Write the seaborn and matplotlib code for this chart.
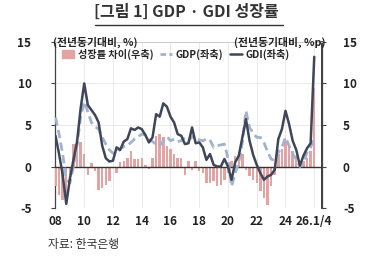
import numpy as np
import pandas as pd
import matplotlib
matplotlib.use("Agg")
import matplotlib.pyplot as plt
from matplotlib.lines import Line2D
import seaborn as sns

# quarterly data, 2008Q1 ~ 2026Q1 (yoy, %)
gdi = [3.7, 1.5, -1.0, -4.5,
       -1.5, 0.8, 3.0, 7.0,
       10.0, 7.4, 6.8, 6.2,
       5.3, 2.5, 1.0, 0.6,
       0.7, 2.3, 2.0, 3.0,
       3.3, 4.6, 4.4, 4.7,
       4.5, 3.8, 2.9, 3.5,
       6.3, 6.0, 7.6, 7.2,
       6.0, 5.3, 3.9, 3.7,
       2.7, 2.8, 4.7, 2.8,
       2.9, 2.3, 0.8, 1.5,
       0.2, 0.0, 0.0, 0.9,
       0.0, -1.6, 0.5, 1.3,
       3.5, 5.7, 3.1, 1.4,
       0.2, -0.8, -1.6, -1.2,
       -1.0, -0.4, 3.3, 4.5,
       6.7, 5.1, 3.1, 2.0,
       0.1, 1.3, 2.2, 2.8,
       13.2]
gdp = [5.9, 3.9, 1.5, -1.5,
       -2.0, 0.0, 2.5, 6.0,
       7.8, 6.6, 5.3, 4.8,
       4.5, 3.5, 2.7, 2.0,
       1.6, 1.6, 2.1, 2.4,
       2.5, 2.9, 3.3, 3.6,
       3.9, 3.8, 3.3, 3.0,
       2.7, 2.5, 3.1, 3.6,
       3.1, 3.3, 3.0, 3.1,
       3.5, 3.1, 3.6, 3.3,
       3.2, 3.1, 3.3, 3.2,
       2.3, 2.5, 2.6, 2.7,
       1.0, -2.4, -0.8, 0.5,
       2.9, 6.7, 4.7, 4.0,
       3.5, 3.5, 2.9, 1.8,
       0.9, 0.7, 1.7, 2.3,
       3.5, 2.5, 1.5, 0.9,
       0.0, 0.3, 1.7, 2.3,
       3.5]
gap = [-2.4, -3.4, -4.0, -3.2,
       -1.0, 2.7, 3.1, 2.9,
       1.5, -1.0, 0.45, -0.6,
       -2.8, -2.6, -2.2, -1.8,
       -0.2, -0.8, 0.6, 0.7,
       1.0, 1.9, 0.85, 0.9,
       1.0, 0.2, -0.3, 1.0,
       3.7, 3.9, 3.5, 2.5,
       2.1, 1.5, 1.0, 1.0,
       -1.0, 0.65, -0.4, 0.65,
       -0.6, -0.8, -2.0, -2.0,
       -1.8, -2.4, -2.2, -1.6,
       -0.8, 0.65, 1.3, 1.7,
       1.5, -0.4, -1.2, -1.6,
       -2.0, -3.0, -3.8, -4.6,
       -2.4, -1.0, 1.5, 2.1,
       3.1, 2.7, 1.9, 1.3,
       0.25, 0.65, 1.0, 1.9,
       9.5]

xtick_pos = [2008, 2010, 2012, 2014, 2016, 2018, 2020, 2022, 2024, 2026]
xtick_lab = ["08", "10", "12", "14", "16", "18", "20", "22", "24", "26.1/4"]
yticks = [-5, 0, 5, 10, 15]

df = pd.DataFrame({"t": 2008 + np.arange(len(gdi)) / 4,
                   "GDI": gdi, "GDP": gdp, "gap": gap})

sns.set_theme(style="white")
plt.rcParams['font.family'] = ['Noto Sans CJK KR', 'DejaVu Sans']

fig = plt.figure(figsize=(3.72, 2.62), dpi=100)
ax = fig.add_axes([0.148, 0.206, 0.718, 0.634])
ax2 = ax.twinx()

c_bar = "#e3a3a3"
c_gdp = "#a3b2cf"
c_gdi = "#3e4658"

# bars on right axis
ax2.bar(df["t"], df["gap"], width=0.17, color=c_bar, linewidth=0, zorder=1)
ax2.axhline(0, color="#333333", lw=1.0, zorder=2)

sns.lineplot(data=df, x="t", y="GDP", ax=ax2, color=c_gdp, lw=2.0,
             linestyle=(0, (3, 1.6)), zorder=3)
sns.lineplot(data=df, x="t", y="GDI", ax=ax2, color=c_gdi, lw=1.8, zorder=4)

for a in (ax, ax2):
    a.set_ylim(-5, 15)
    a.set_xlim(2007.97, 2026.55)
    a.set_yticks(yticks)
    a.set_xlabel("")
    a.set_ylabel("")

ax.set_xticks(xtick_pos)
ax.set_xticklabels(xtick_lab, fontsize=8.5, fontweight="bold", color="#222222")
ax.set_yticklabels([str(v) for v in yticks], fontsize=8.5, fontweight="bold", color="#222222")
ax2.set_yticklabels([str(v) for v in yticks], fontsize=8.5, fontweight="bold", color="#222222")
ax.tick_params(axis="x", length=0, pad=5)
ax.tick_params(axis="y", length=3, width=0.8, color="#444444", pad=14)
ax2.tick_params(axis="y", length=3, width=0.8, color="#444444", pad=12)

ax.grid(True, color="#e6e6e6", lw=0.6)
ax2.grid(False)
ax.set_zorder(0)
ax2.set_zorder(1)

for a in (ax, ax2):
    a.spines["bottom"].set_visible(False)
    a.spines["top"].set_color("#cccccc")
    a.spines["top"].set_linewidth(0.6)
ax.spines["left"].set_color("#444444")
ax.spines["left"].set_linewidth(0.9)
ax2.spines["right"].set_color("#444444")
ax2.spines["right"].set_linewidth(0.9)
ax2.spines["left"].set_visible(False)

# unit labels
fig.text(0.143, 0.838, "(전년동기대비, %)", fontsize=7.8, fontweight="bold",
         color="#222222", va="center", ha="left")
fig.text(0.875, 0.838, "(전년동기대비, %p)", fontsize=7.8, fontweight="bold",
         color="#222222", va="center", ha="right")

# legend
handles = [plt.Rectangle((0, 0), 1, 1, color=c_bar),
           Line2D([0], [0], color=c_gdp, lw=2.0, linestyle=(0, (2, 1.2))),
           Line2D([0], [0], color=c_gdi, lw=1.8)]
labels = ["성장률 차이(우축)", "GDP(좌축)", "GDI(좌축)"]
ax2.legend(handles, labels, loc="upper left", bbox_to_anchor=(0.0, 1.0), ncol=3,
           frameon=False, fontsize=7.3, handlelength=1.2, handletextpad=0.4,
           columnspacing=0.6, borderaxespad=0.25,
           prop={"weight": "bold", "size": 7.3})

# title
fig.text(0.5, 0.955, "[그림 1] GDP · GDI 성장률", fontsize=11.5, fontweight="bold",
         color="#333333", ha="center", va="center")
fig.add_artist(Line2D([0.255, 0.762], [0.905, 0.905], color="#333333", lw=1.0,
                      transform=fig.transFigure))

fig.text(0.128, 0.068, "자료: 한국은행", fontsize=8.5, color="#333333",
         ha="left", va="center")

fig.savefig("out.png", dpi=100)
